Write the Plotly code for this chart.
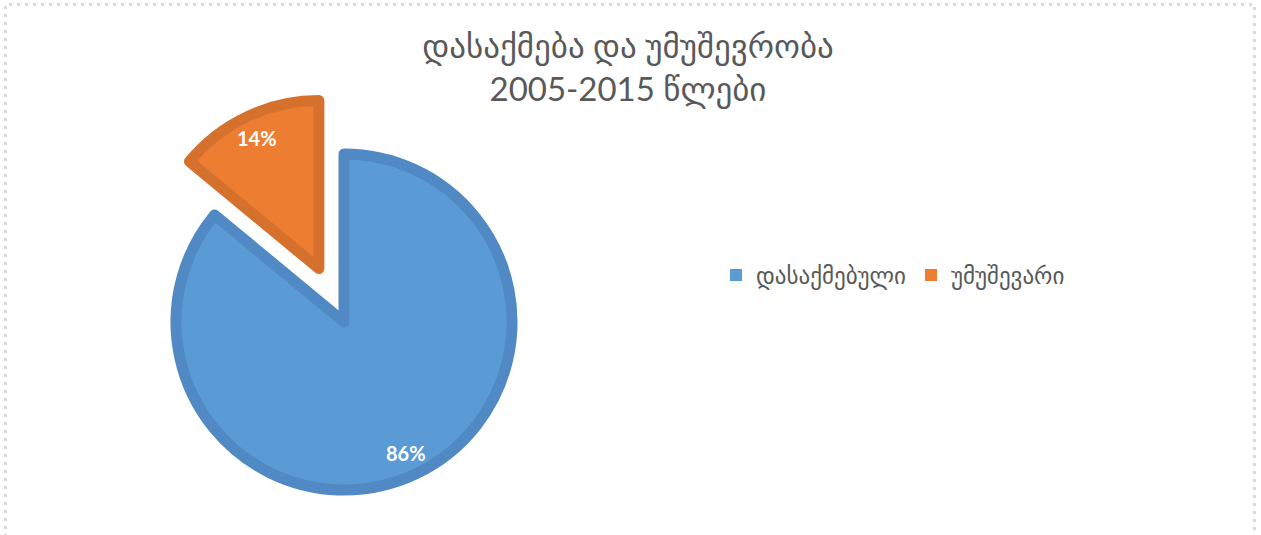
import math
import plotly.graph_objects as go

# ---- data ----
labels = ["დასაქმებული", "უმუშევარი"]
values = [86, 14]
pulls = [0.0, 0.34]
fill_colors = ["#5B9BD5", "#ED7D31"]
edge_colors = ["#5089C3", "#D5712C"]
title_lines = ["დასაქმება და უმუშევრობა", "2005-2015 წლები"]

# ---- layout geometry (pixels) ----
W, H = 1261, 535
CX, CY = 344, 322          # centre of the un-pulled pie
R = 168                    # pie radius
LW = 11                    # slice outline width

def px_to_paper(x, y):
    return x / W, 1 - y / H

total = sum(values)
fig = go.Figure()

annotations = []
cum = 0
for i, (lab, v) in enumerate(zip(labels, values)):
    mid = 2 * math.pi * (cum + v / 2) / total   # clockwise from 12 o'clock
    cum += v
    off = pulls[i] * (R + LW / 2)
    cx = CX + off * math.sin(mid)
    cy = CY - off * math.cos(mid)
    cols = ["rgba(0,0,0,0)"] * len(values)
    lcols = ["rgba(0,0,0,0)"] * len(values)
    cols[i] = fill_colors[i]
    lcols[i] = edge_colors[i]
    x0, y1 = px_to_paper(cx - R, cy - R)
    x1, y0 = px_to_paper(cx + R, cy + R)
    fig.add_trace(go.Pie(
        labels=labels, values=values, sort=False, direction="clockwise",
        rotation=0, textinfo="none", hoverinfo="skip", showlegend=False,
        marker=dict(colors=cols, line=dict(color=lcols, width=LW)),
        domain=dict(x=[x0, x1], y=[y0, y1]),
    ))
    k = 0.86
    tx, ty = px_to_paper(cx + k * R * math.sin(mid), cy - k * R * math.cos(mid))
    annotations.append(dict(
        x=tx, y=ty, xref="paper", yref="paper", showarrow=False,
        xanchor="center", yanchor="middle",
        text=f"<b>{round(100 * v / total)}%</b>",
        font=dict(family="Lato, DejaVu Sans", size=20, color="white"),
    ))

# legend entries
for lab, fc in zip(labels, fill_colors):
    fig.add_trace(go.Scatter(
        x=[None], y=[None], mode="markers", name=lab,
        marker=dict(symbol="square", size=12, color=fc),
        hoverinfo="skip",
    ))

fig.update_layout(
    width=W, height=H,
    margin=dict(l=0, r=0, t=0, b=0),
    paper_bgcolor="white", plot_bgcolor="white",
    xaxis=dict(visible=False), yaxis=dict(visible=False),
    title=dict(
        text="<br>".join(title_lines),
        x=0.498, xanchor="center", xref="container",
        y=1 - 58 / H, yanchor="top", yref="container",
        font=dict(family="Lato, DejaVu Sans", size=33, color="#595959"),
    ),
    legend=dict(
        orientation="h", x=716 / W, xanchor="left", y=1 - 275 / H, yanchor="middle",
        font=dict(family="Lato, DejaVu Sans", size=23, color="#595959"),
        bgcolor="rgba(0,0,0,0)", itemclick=False, itemdoubleclick=False,
    ),
    annotations=annotations,
    shapes=[dict(
        type="rect", xref="paper", yref="paper",
        x0=5.5 / W, x1=1254.5 / W, y0=-10 / H, y1=1 - 4.5 / H,
        line=dict(color="#D9D9D9", width=3, dash="3px,5px"),
        fillcolor="rgba(0,0,0,0)",
    )],
)

fig.write_html("out.html", config={"displayModeBar": False},
               post_script="document.body.style.margin='0px';")
